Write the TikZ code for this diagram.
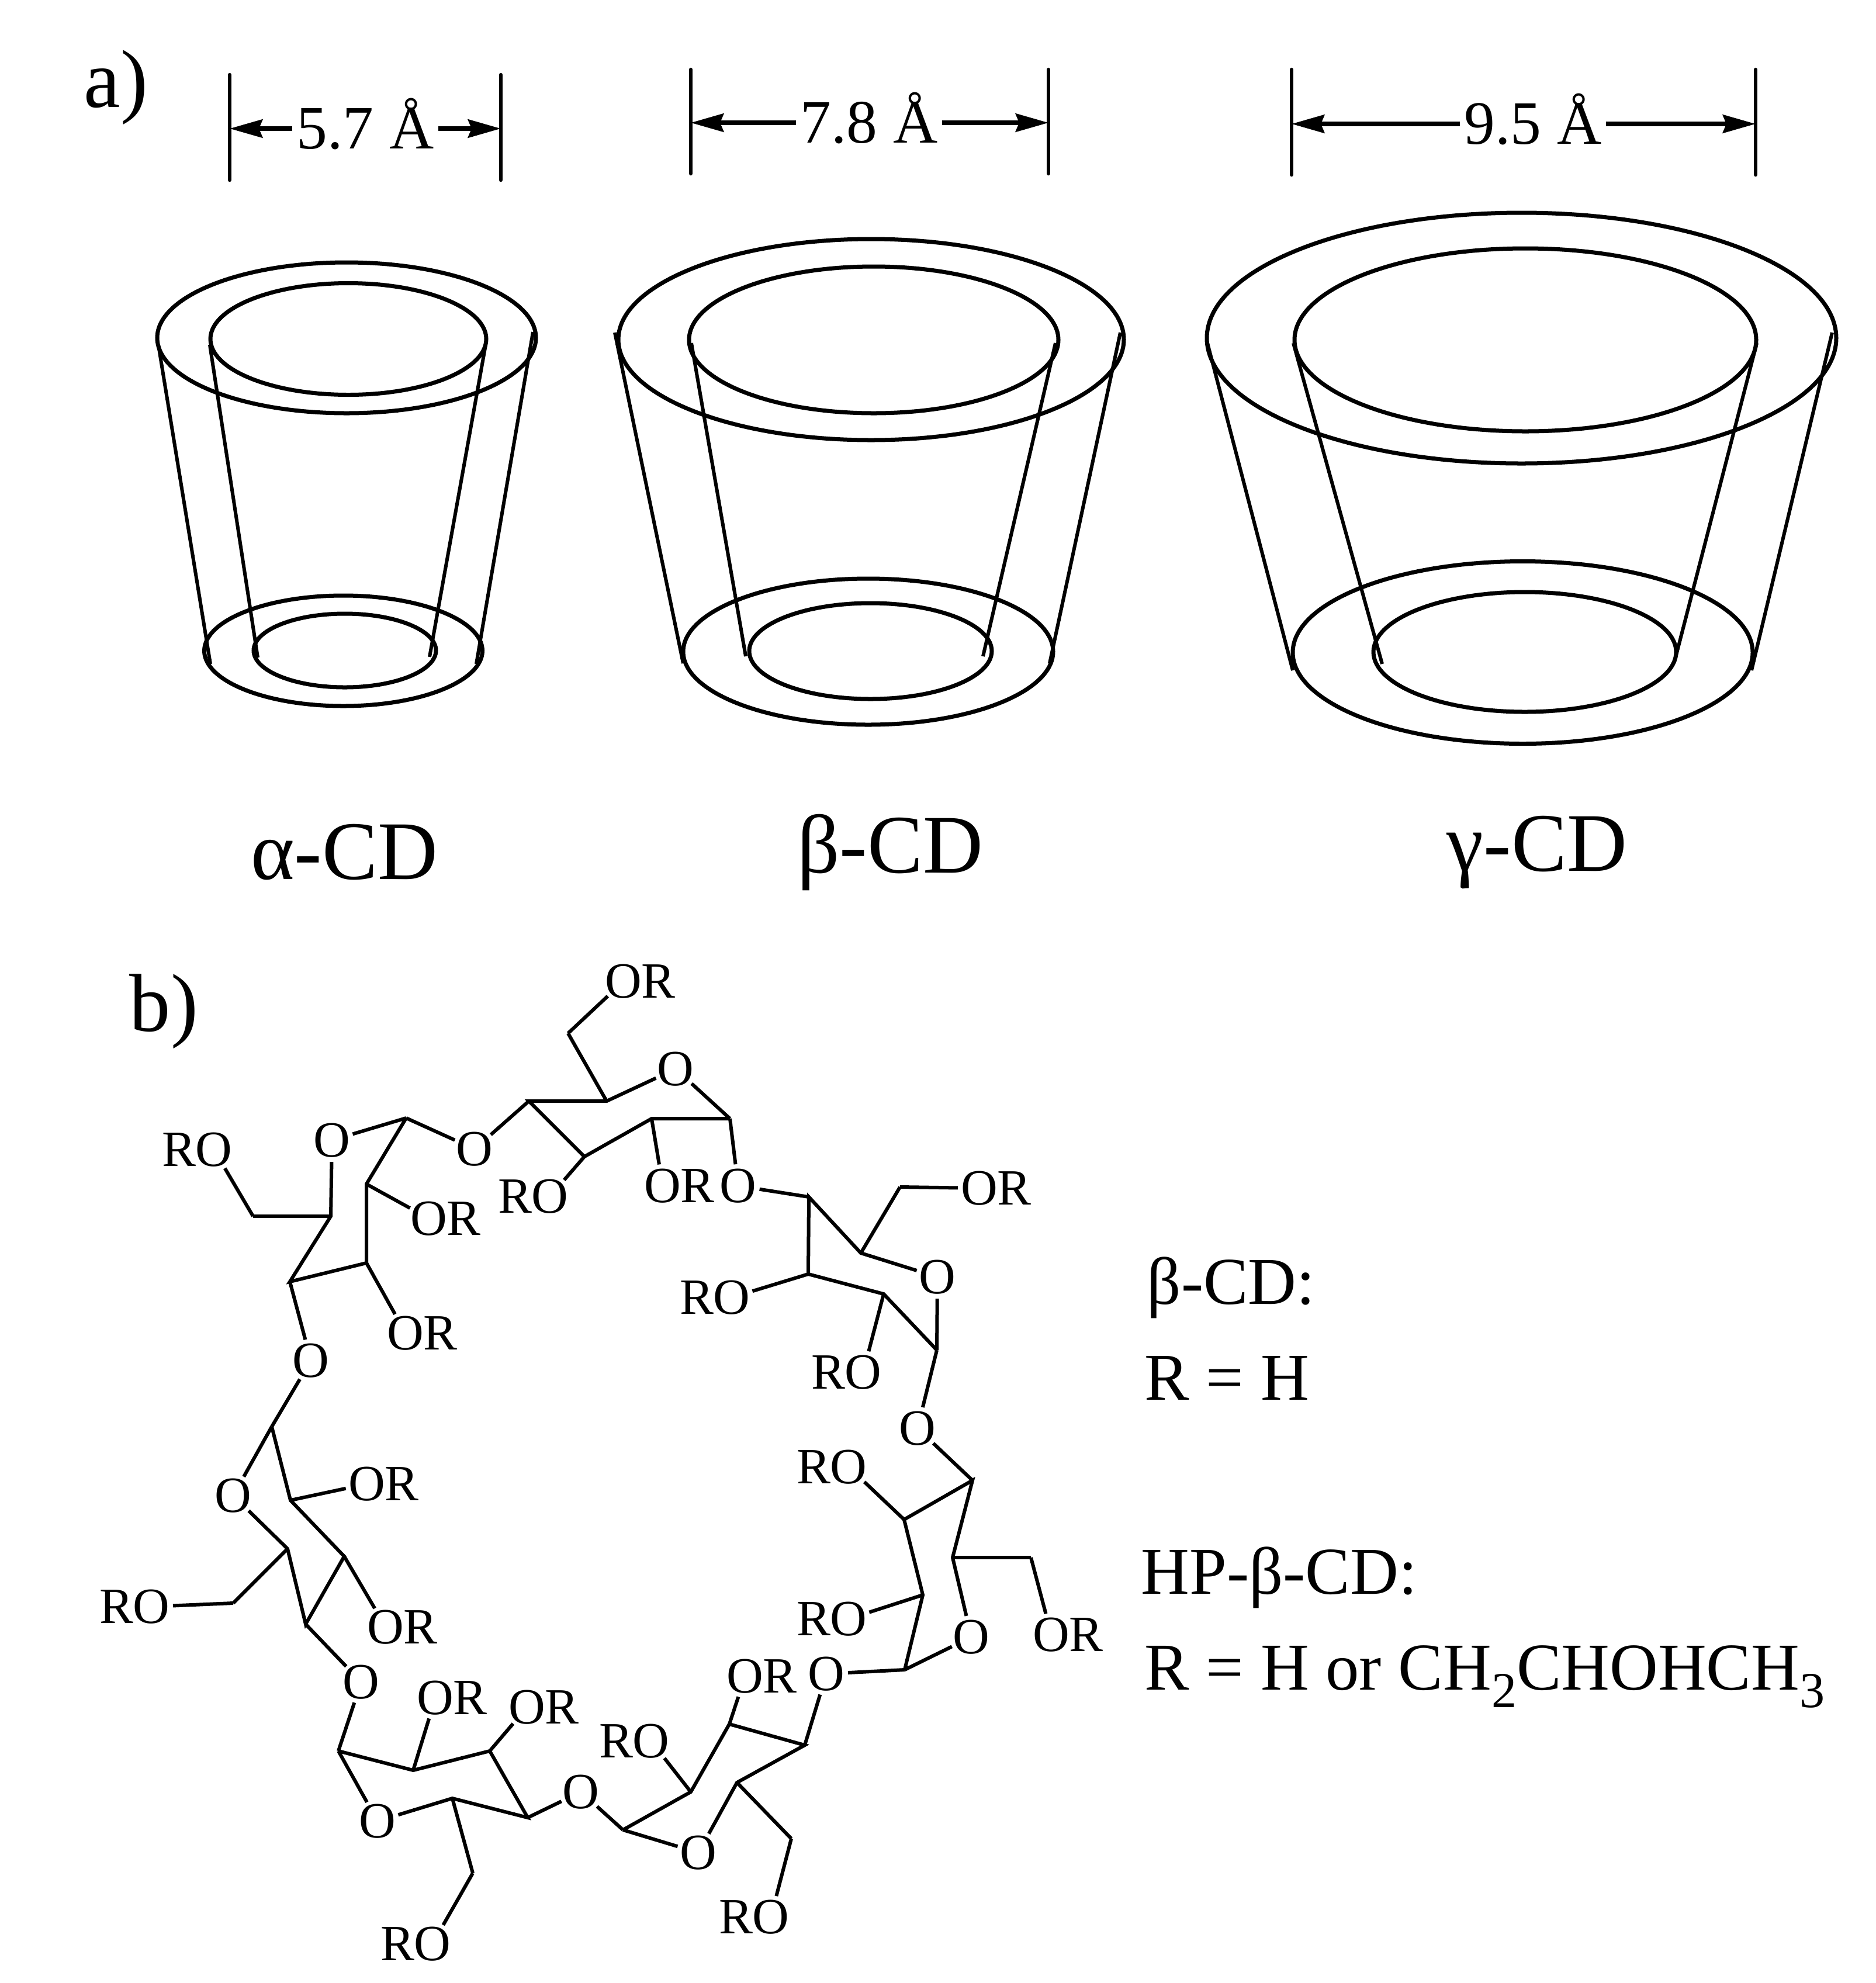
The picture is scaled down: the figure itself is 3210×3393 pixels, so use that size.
\documentclass[tikz,border=0pt]{standalone}
\usepackage{fontspec}
\setmainfont{Liberation Serif}
\usepackage{tikz}
\usetikzlibrary{arrows.meta}
\tikzstyle{rim}=[draw,line width=0.07cm]
\tikzstyle{side}=[draw,line width=0.06cm]
\tikzstyle{bond}=[draw,line width=0.06cm]
\tikzstyle{limit}=[draw,line width=0.065cm,line cap=round]
\tikzstyle{dimarrow}=[draw,line width=0.075cm,->,>={Stealth[length=0.56cm,width=0.31cm,inset=0.06cm]}]
\tikzstyle{dimtext}=[font=\fontsize{30}{30}\selectfont,inner ysep=0,inner xsep=0.07cm,text height=0.68cm,text depth=0cm]
\tikzstyle{oxy}=[circle,inner sep=-0.045cm,font=\fontsize{24.7}{24.7}\selectfont]
\tikzstyle{rlab}=[inner sep=0,font=\fontsize{24.7}{24.7}\selectfont,label distance=-0.07cm]
\tikzstyle{rright}=[label={[rlab]right:R}]
\tikzstyle{rleft}=[label={[rlab]left:R}]
\tikzstyle{part}=[anchor=base west,inner sep=0,font=\fontsize{40}{40}\selectfont]
\tikzstyle{cdname}=[anchor=base,inner sep=0,font=\fontsize{40.5}{40.5}\selectfont]
\tikzstyle{legend}=[anchor=base west,inner sep=0,font=\fontsize{32.6}{32.6}\selectfont]
\newcommand{\lowered}[1]{\raisebox{-0.3cm}{\fontsize{24.5}{24.5}\selectfont #1}}
\begin{document}
\begin{tikzpicture}[x=0.01cm,y=-0.01cm]
\useasboundingbox (0,0) rectangle (3210,3393);

% a) the three cones
\node[part] (parta) at (143,183) {a)};
\foreach \cx/\cy/\rx/\ry in {593/578/324/129, 596/580/236/95.5, 587.5/1113.5/238/94.5, 590/1113/156/63,
  1490.5/581/432.5/172, 1495/581.5/316/125.5, 1485.5/1115/316.5/125, 1489.5/1114/207.5/82,
  2603.5/578.5/538.5/214.5, 2610/581.5/395/156.5, 2605.5/1116.5/393.5/156, 2609/1115.5/259/102.5}
{
  \draw[rim] (\cx,\cy) ellipse [x radius=\rx, y radius=\ry];
}
\foreach \xa/\ya/\xb/\yb in {271/590/360/1136, 359/590/441/1125, 831/590/735/1124, 912/568/815/1136,
  1052/569/1169/1135, 1183/587/1276/1123, 1806/587/1682/1123, 1917/569/1796/1135,
  2066/587/2212/1147, 2213/587/2365/1136, 3006/587/2867/1125, 3135/569/2997/1147}
{
  \draw[side] (\xa,\ya) -- (\xb,\yb);
}
\foreach \nm/\lx/\rx/\cx/\ay/\ya/\yb/\val in {alpha/393/857/625/220/128/308/5.7,
  beta/1182/1794/1487/210/119/297/7.8, gamma/2210/3004/2623/212/119/299/9.5}
{
  \coordinate (\nm l) at (\lx,\ya);
  \coordinate (\nm r) at (\rx,\ya);
  \draw[limit] (\nm l) -- (\lx,\yb);
  \draw[limit] (\nm r) -- (\rx,\yb);
  \node[dimtext] (\nm w) at (\cx,\ay) {\val~Å};
  \draw[dimarrow] (\nm w.west) -- (\nm w.west -| \nm l);
  \draw[dimarrow] (\nm w.east) -- (\nm w.east -| \nm r);
}
\node[cdname] (calpha) at (589,1504) {α-CD};
\node[cdname] (cbeta) at (1523,1493) {β-CD};
\node[cdname] (cgamma) at (2630,1490) {γ-CD};

% b) the ring of seven sugars
\node[part] (partb) at (221,1764) {b)};
\foreach \nm/\px/\py in {a1/695/1913, a2/627/2026, a3/627/2161, a4/496/2193, a5/566/2081, a6/433/2081,
  b1/1249/1914, b2/1115/1914, b3/1000/1979, b4/905/1884, b5/1038/1884, b6/972/1768,
  c1/1603/2310, c2/1512/2214, c3/1383/2180, c4/1384/2048, c5/1473/2144, c6/1540/2031,
  d1/1548/2857, d2/1579/2729, d3/1547/2600, d4/1664/2533, d5/1630/2665, d6/1764/2665,
  e1/465/2441, e2/497/2567, e3/589/2663, e4/523/2779, e5/492/2650, e6/399/2743,
  f1/579/2996, f2/707/3029, f3/838/2996, f4/903/3110, f5/774/3077, f6/809/3205,
  g1/1066/3131, g2/1182/3066, g3/1248/2950, g4/1377/2986, g5/1261/3050, g6/1354/3146}
{
  \coordinate (\nm) at (\px,\py);
}
\foreach \nm/\px/\py in {oa/568/1951, ob/1156/1829, oc/1604/2185, od/1662/2801, oe/399/2559, of/646/3116, og/1195/3170,
  xab/812/1966, xbc/1263/2029, xcd/1570/2444, xdg/1414/2864, xgf/994/3066, xfe/618/2878, xea/532/2328}
{
  \node[oxy] (\nm) at (\px,\py) {O};
}
\foreach \nm/\px/\py in {ra1/734/2085, ra2/694/2281, rb1/1067/1679, rb2/1134/2029, rc1/1676/2033, rd1/1799/2797,
  re1/628/2539, re2/660/2784, rf1/745/2905, rf2/902/2921, rg1/1275/2868}
{
  \node[oxy,rright] (\nm) at (\px,\py) {O};
}
\foreach \nm/\px/\py in {la1/366/1967, lb1/941/2047, lc1/1252/2220, lc2/1477/2348, ld1/1452/2510, ld2/1452/2770,
  le1/259/2749, lf1/740/3326, lg1/1114/2979, lg2/1319/3280}
{
  \node[oxy,rleft] (\nm) at (\px,\py) {O};
}
\foreach \r in {a,b,c,d,e,f,g}
{
  \draw[bond] (\r1) -- (\r2) -- (\r3) -- (\r4) -- (\r5) -- (o\r) -- (\r1);
  \draw[bond] (\r5) -- (\r6);
}
\foreach \p/\x/\q in {a1/xab/b4, b1/xbc/c4, c1/xcd/d4, d1/xdg/g4, g1/xgf/f4, f1/xfe/e4, e1/xea/a4}
{
  \draw[bond] (\p) -- (\x) -- (\q);
}
\foreach \p/\q in {a6/la1, a2/ra1, a3/ra2, b6/rb1, b3/lb1, b2/rb2, c6/rc1, c3/lc1, c2/lc2,
  d6/rd1, d3/ld1, d2/ld2, e6/le1, e3/re2, e2/re1, f6/lf1, f2/rf1, f3/rf2, g6/lg2, g3/rg1, g2/lg1}
{
  \draw[bond] (\p) -- (\q);
}

\node[legend] (bcd) at (1962,2231) {β-CD:};
\node[legend] (bcdr) at (1958,2395) {R = H};
\node[legend] (hpcd) at (1952,2727) {HP-β-CD:};
\node[legend] (hpcdr) at (1958,2891) {R = H or CH\lowered{2}CHOHCH\lowered{3}};
\end{tikzpicture}
\end{document}
